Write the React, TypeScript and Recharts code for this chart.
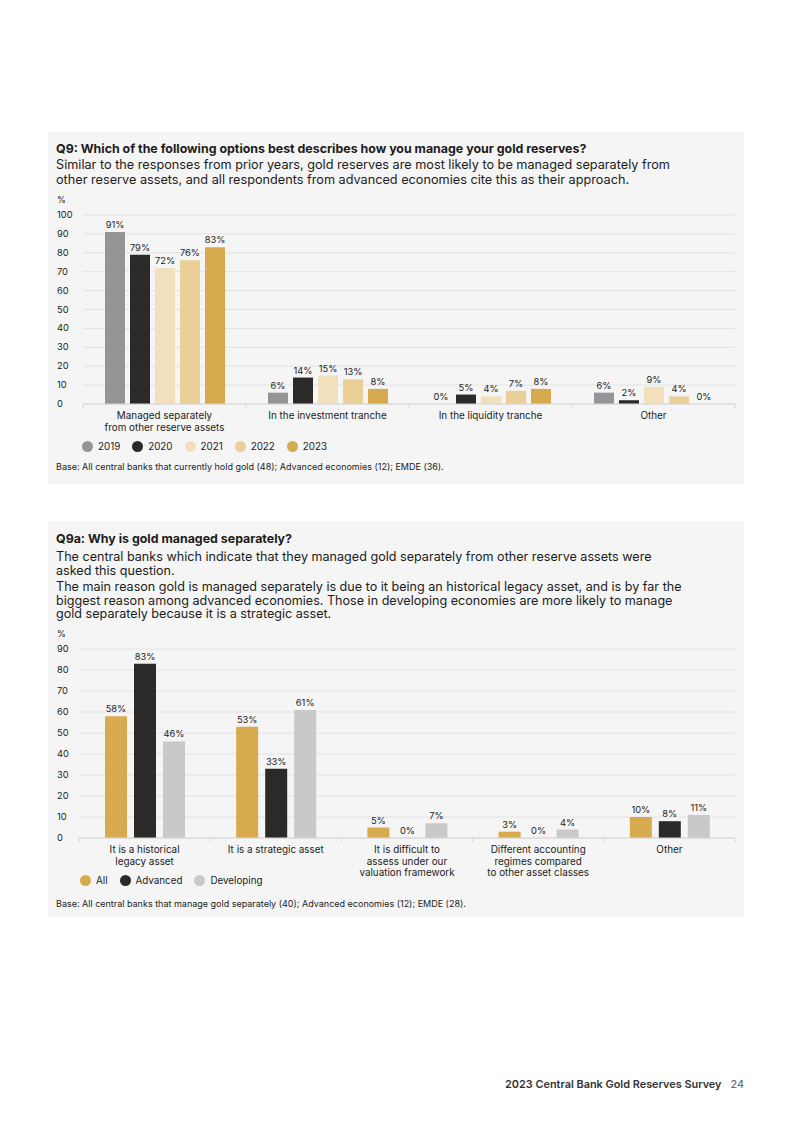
import React from 'react';
import { BarChart, Bar, XAxis, YAxis, CartesianGrid, LabelList } from 'recharts';

// Q9 data
const q9Categories = ['Managed separately\nfrom other reserve assets', 'In the investment tranche', 'In the liquidity tranche', 'Other'];
const q9Years = ['2019', '2020', '2021', '2022', '2023'];
const q9Colors = ['#959497', '#2b2a28', '#f1e0bb', '#eacf97', '#d8aa4f'];
const q9_2019 = [91, 6, 0, 6];
const q9_2020 = [79, 14, 5, 2];
const q9_2021 = [72, 15, 4, 9];
const q9_2022 = [76, 13, 7, 4];
const q9_2023 = [83, 8, 8, 0];
const q9Ticks = [0, 10, 20, 30, 40, 50, 60, 70, 80, 90, 100];

// Q9a data
const q9aCategories = [
  'It is a historical\nlegacy asset',
  'It is a strategic asset',
  'It is difficult to\nassess under our\nvaluation framework',
  'Different accounting\nregimes compared\nto other asset classes',
  'Other',
];
const q9aSeries = ['All', 'Advanced', 'Developing'];
const q9aColors = ['#d8aa4f', '#2b2a28', '#c9c9c9'];
const q9aAll = [58, 53, 5, 3, 10];
const q9aAdvanced = [83, 33, 0, 0, 8];
const q9aDeveloping = [46, 61, 7, 4, 11];
const q9aTicks = [0, 10, 20, 30, 40, 50, 60, 70, 80, 90];

const FONT = "Inter, 'Noto Sans', sans-serif";
const TEXT = '#1c1c1c';

const q9Data = q9Categories.map((name, i) => ({
  name,
  y2019: q9_2019[i],
  y2020: q9_2020[i],
  y2021: q9_2021[i],
  y2022: q9_2022[i],
  y2023: q9_2023[i],
}));

const q9aData = q9aCategories.map((name, i) => ({
  name,
  All: q9aAll[i],
  Advanced: q9aAdvanced[i],
  Developing: q9aDeveloping[i],
}));

const yTick = (props: any) => (
  <text x={9} y={props.y} dy={3} fontSize={9.3} fill={TEXT} fontFamily={FONT} textAnchor="start">
    {props.payload.value}
  </text>
);

const catTick = (bw: number) => (props: any) => {
  const { x, y, payload, index } = props;
  const lines = String(payload.value).split('\n');
  return (
    <g>
      {index === 0 && <line x1={x - bw / 2} x2={x - bw / 2} y1={y} y2={y + 4} stroke="#d6d6d6" />}
      <line x1={x + bw / 2} x2={x + bw / 2} y1={y} y2={y + 4} stroke="#d6d6d6" />
      <text x={x} y={y + 15} fontSize={9.9} fill={TEXT} fontFamily={FONT} textAnchor="middle">
        {lines.map((l, i) => (
          <tspan key={i} x={x} dy={i === 0 ? 0 : 11.5}>
            {l}
          </tspan>
        ))}
      </text>
    </g>
  );
};

const Legend = ({ names, colors }: { names: string[]; colors: string[] }) => (
  <div style={{ display: 'flex', alignItems: 'center', fontSize: 9.8, color: TEXT }}>
    {names.map((n, i) => (
      <div key={n} style={{ display: 'flex', alignItems: 'center', marginRight: 12 }}>
        <span style={{ width: 11, height: 11, borderRadius: '50%', background: colors[i], marginRight: 5, display: 'inline-block' }} />
        <span>{n}</span>
      </div>
    ))}
  </div>
);

const abs = (left: number, top: number, extra: React.CSSProperties = {}): React.CSSProperties => ({
  position: 'absolute',
  left,
  top,
  ...extra,
});

const barLabel = (
  <LabelList
    position="top"
    offset={4}
    formatter={(v: any) => `${v}%`}
    style={{ fontSize: 9.3, fill: TEXT, fontFamily: FONT }}
  />
);

export default function App() {
  const q9Keys = ['y2019', 'y2020', 'y2021', 'y2022', 'y2023'];
  return (
    <div style={{ position: 'absolute', left: 0, top: 0, width: 793, height: 1122, background: '#fff', fontFamily: FONT, color: TEXT }}>
      {/* Panel 1 */}
      <div style={abs(48, 132, { width: 696, height: 352, background: '#f5f5f5' })} />
      <div style={abs(56, 141, { fontSize: 12.4, fontWeight: 700, whiteSpace: 'pre' })}>
        Q9: Which of the following options best describes how you manage your gold reserves?
      </div>
      <div style={abs(56, 157, { fontSize: 12.7, lineHeight: '15px', whiteSpace: 'pre' })}>
        {'Similar to the responses from prior years, gold reserves are most likely to be managed separately from\nother reserve assets, and all respondents from advanced economies cite this as their approach.'}
      </div>
      <div style={abs(57, 194, { fontSize: 9 })}>%</div>
      <div style={abs(48, 200)}>
        <BarChart width={696} height={245} data={q9Data} margin={{ top: 15, right: 9, bottom: 0, left: 0 }} barGap={5} barSize={20}>
          <CartesianGrid vertical={false} stroke="#e2e2e2" />
          <XAxis
            dataKey="name"
            interval={0}
            height={41}
            axisLine={{ stroke: '#d6d6d6' }}
            tickLine={false}
            tickSize={0}
            tickMargin={0}
            tick={catTick(163)}
          />
          <YAxis width={35} domain={[0, 100]} ticks={q9Ticks} interval={0} axisLine={false} tickLine={false} tick={yTick} />
          {q9Keys.map((k, i) => (
            <Bar key={k} dataKey={k} fill={q9Colors[i]} minPointSize={0.01} isAnimationActive={false}>
              {React.cloneElement(barLabel, { dataKey: k })}
            </Bar>
          ))}
        </BarChart>
      </div>
      <div style={abs(82, 441)}>
        <Legend names={q9Years} colors={q9Colors} />
      </div>
      <div style={abs(56, 461, { fontSize: 9 })}>
        Base: All central banks that currently hold gold (48); Advanced economies (12); EMDE (36).
      </div>

      {/* Panel 2 */}
      <div style={abs(48, 521, { width: 696, height: 396, background: '#f5f5f5' })} />
      <div style={abs(56, 531, { fontSize: 12.4, fontWeight: 700, whiteSpace: 'pre' })}>Q9a: Why is gold managed separately?</div>
      <div style={abs(56, 550, { fontSize: 12.6, lineHeight: '13.5px', whiteSpace: 'pre' })}>
        {'The central banks which indicate that they managed gold separately from other reserve assets were\nasked this question.'}
      </div>
      <div style={abs(56, 580, { fontSize: 12.6, lineHeight: '13.5px', whiteSpace: 'pre' })}>
        {'The main reason gold is managed separately is due to it being an historical legacy asset, and is by far the\nbiggest reason among advanced economies. Those in developing economies are more likely to manage\ngold separately because it is a strategic asset.'}
      </div>
      <div style={abs(57, 628, { fontSize: 9 })}>%</div>
      <div style={abs(48, 634)}>
        <BarChart width={696} height={250} data={q9aData} margin={{ top: 15, right: 9, bottom: 0, left: 0 }} barGap={7} barSize={22}>
          <CartesianGrid vertical={false} stroke="#e2e2e2" />
          <XAxis
            dataKey="name"
            interval={0}
            height={46}
            axisLine={{ stroke: '#d6d6d6' }}
            tickLine={false}
            tickSize={0}
            tickMargin={0}
            tick={catTick(131.2)}
          />
          <YAxis width={31} domain={[0, 90]} ticks={q9aTicks} interval={0} axisLine={false} tickLine={false} tick={yTick} />
          {q9aSeries.map((k, i) => (
            <Bar key={k} dataKey={k} fill={q9aColors[i]} minPointSize={0.01} isAnimationActive={false}>
              {React.cloneElement(barLabel, { dataKey: k })}
            </Bar>
          ))}
        </BarChart>
      </div>
      <div style={abs(80, 875)}>
        <Legend names={q9aSeries} colors={q9aColors} />
      </div>
      <div style={abs(56, 898, { fontSize: 9 })}>
        Base: All central banks that manage gold separately (40); Advanced economies (12); EMDE (28).
      </div>

      {/* Footer */}
      <div style={abs(0, 1077, { width: 744, textAlign: 'right', fontSize: 10.9, whiteSpace: 'pre' })}>
        <span style={{ fontWeight: 600, color: '#333' }}>2023 Central Bank Gold Reserves Survey</span>
        <span style={{ color: '#555', marginLeft: 9 }}>24</span>
      </div>
    </div>
  );
}
